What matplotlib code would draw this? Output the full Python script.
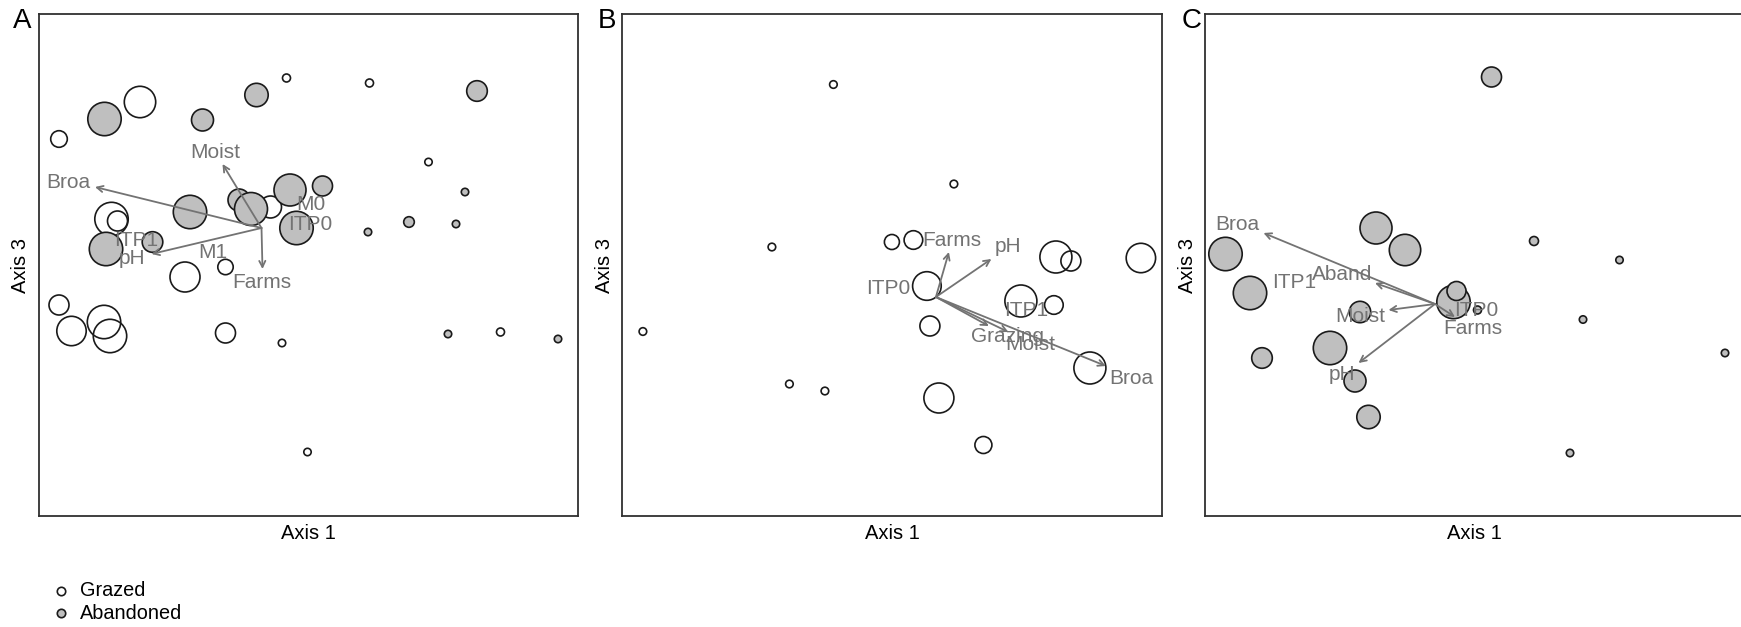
import matplotlib
matplotlib.use("Agg")
import matplotlib.pyplot as plt
import numpy as np

plt.rcParams['font.family'] = ['Liberation Sans', 'DejaVu Sans']

# ---------------- data (ordination scores, arbitrary units) ----------------
# Panel A
A_graz_x = [248, 331, 101.5, 20.5, 390, 232, 73, 79, 146.5, 187, 20.5, 33, 65.5, 71.5, 187, 243.5, 462, 269]
A_graz_y = [438, 433, 414, 377, 354, 309, 297, 295, 239, 249, 211, 185, 194, 180, 183, 173, 184, 64]
A_graz_n = [4, 4, 15.7, 8.3, 3.7, 11, 16.7, 10, 15, 7.7, 10, 14.7, 16.7, 16.7, 10, 3.7, 4, 3.7]
A_aban_x = [218, 66, 164, 438.5, 200.5, 212.5, 251.5, 284, 151.5, 258, 67.5, 114, 426.5, 370.5, 417.5, 329.5, 409.5, 519.5]
A_aban_y = [421, 397, 396, 425, 316, 307, 326, 330, 304, 288, 267, 274, 324, 294, 292, 284, 182, 177]
A_aban_n = [11.7, 16.7, 11, 10.3, 11, 16.5, 16, 10, 16.7, 16.7, 16.7, 10.3, 3.7, 5.3, 3.7, 3.7, 3.7, 3.7]
A_vec_names = ['Broa', 'Moist', 'pH', 'Farms']
A_vec_origin = (223, 288)
A_vec_x = [56.5, 184, 113, 224]
A_vec_y = [329, 352, 262, 247]
A_vec_lab_x = [30, 176.5, 94, 223]
A_vec_lab_y = [333, 363, 257, 234]
A_fac_names = ['M0', 'ITP0', 'M1', 'ITP1']
A_fac_x = [272.5, 271.5, 174, 98]
A_fac_y = [311, 291, 263, 276]

# Panel B
B_graz_x = [211, 331.5, 149.5, 20.5, 167, 202.5, 361, 316.5, 307.5, 304.5, 269.5, 291, 433.5, 448.5, 518.5, 398.5, 431.5, 467.5]
B_graz_y = [431.5, 332, 269, 184.5, 132, 125, 71, 118, 190, 230, 274, 276, 259, 255, 258, 215, 211, 148]
B_graz_n = [3.8, 3.8, 3.8, 3.8, 3.8, 3.8, 8.5, 15, 10, 14.3, 7.5, 9.3, 16, 10, 14.7, 16, 9.3, 16]
B_vec_names = ['Farms', 'pH', 'Grazing', 'Moist', 'Broa']
B_vec_origin = (313.5, 219)
B_vec_x = [326.5, 369, 366.5, 386, 483.5]
B_vec_y = [264, 257, 190, 184, 150]
B_vec_lab_x = [329, 386, 385, 407.5, 508.5]
B_vec_lab_y = [275, 269, 179, 171, 138]
B_fac_names = ['ITP0', 'ITP1']
B_fac_x = [266, 404]
B_fac_y = [228, 205]

# Panel C
C_aban_x = [286.5, 329, 414.5, 378, 520, 365, 20.5, 45, 171, 200, 248.5, 251.5, 272.5, 155, 125, 57, 150, 163.5]
C_aban_y = [439, 275, 256, 196.5, 163, 63, 262, 223, 288, 266, 214, 225, 206, 204, 168, 158, 135, 99]
C_aban_n = [10, 4.5, 3.7, 3.7, 3.7, 3.7, 16.7, 16.7, 16, 15.7, 16.7, 9.5, 4, 10.7, 16.7, 10.3, 11, 11.7]
C_vec_names = ['Broa', 'Aband', 'Moist', 'pH', 'Farms']
C_vec_origin = (230, 212)
C_vec_x = [58.5, 170, 183.5, 153.5, 250]
C_vec_y = [283, 233, 206, 153, 199]
C_vec_lab_x = [32, 137, 155, 137, 268]
C_vec_lab_y = [291, 242, 200, 141, 187]
C_fac_names = ['ITP1', 'ITP0']
C_fac_x = [89, 271]
C_fac_y = [234, 206]

legend_labels = ['Grazed', 'Abandoned']

# ---------------- styling ----------------
W, H = 1741, 627
DPI = 100
GREY_FILL = '#bfbfbf'
EDGE = '#1a1a1a'
VEC = '#737373'
XL, YL = 539.8, 501.6


def msize(r):
    r = np.asarray(r, dtype=float)
    return (2 * r * 72.0 / DPI) ** 2


fig = plt.figure(figsize=(W / DPI, H / DPI), dpi=DPI)


def make_ax(left_px):
    ax = fig.add_axes([left_px / W, (H - 516) / H, XL / W, YL / H])
    ax.set_xlim(0, XL)
    ax.set_ylim(0, YL)
    ax.set_xticks([])
    ax.set_yticks([])
    for s in ax.spines.values():
        s.set_linewidth(1.3)
        s.set_color('#303030')
    ax.set_xlabel('Axis 1', fontsize=14.5, labelpad=6)
    ax.set_ylabel('Axis 3', fontsize=14.5, labelpad=6)
    return ax


def draw_open(ax, x, y, n):
    ax.scatter(x, y, s=msize(n), facecolors='none', edgecolors=EDGE, linewidths=1.2, zorder=2)


def draw_fill(ax, x, y, n):
    ax.scatter(x, y, s=msize(n), facecolors=GREY_FILL, edgecolors=EDGE, linewidths=1.2, zorder=3)


def draw_vectors(ax, origin, xs, ys, names, lx, ly):
    for tx, ty, nm, a, b in zip(xs, ys, names, lx, ly):
        ax.annotate('', xy=(tx, ty), xytext=origin,
                    arrowprops=dict(arrowstyle='->', color=VEC, lw=1.3,
                                    mutation_scale=11, shrinkA=0, shrinkB=0),
                    zorder=4)
        ax.text(a, b, nm, ha='center', va='center', color=VEC, fontsize=15, zorder=5)


def draw_factors(ax, xs, ys, names):
    for a, b, nm in zip(xs, ys, names):
        ax.text(a, b, nm, ha='center', va='center', color=VEC, fontsize=15, zorder=5)


axA = make_ax(38.5)
draw_open(axA, A_graz_x, A_graz_y, A_graz_n)
draw_fill(axA, A_aban_x, A_aban_y, A_aban_n)
draw_vectors(axA, A_vec_origin, A_vec_x, A_vec_y, A_vec_names, A_vec_lab_x, A_vec_lab_y)
draw_factors(axA, A_fac_x, A_fac_y, A_fac_names)

axB = make_ax(622.4)
draw_open(axB, B_graz_x, B_graz_y, B_graz_n)
draw_vectors(axB, B_vec_origin, B_vec_x, B_vec_y, B_vec_names, B_vec_lab_x, B_vec_lab_y)
draw_factors(axB, B_fac_x, B_fac_y, B_fac_names)

axC = make_ax(1205)
draw_fill(axC, C_aban_x, C_aban_y, C_aban_n)
draw_vectors(axC, C_vec_origin, C_vec_x, C_vec_y, C_vec_names, C_vec_lab_x, C_vec_lab_y)
draw_factors(axC, C_fac_x, C_fac_y, C_fac_names)

# panel letters
for lab, xp in zip(['A', 'B', 'C'], [22.5, 607, 1191.7]):
    fig.text(xp / W, 1 - 21.5 / H, lab, fontsize=20, ha='center', va='center')

# legend
lax = fig.add_axes([0, 0, 1, 1], facecolor='none')
lax.set_xlim(0, W)
lax.set_ylim(H, 0)
lax.axis('off')
lax.scatter([60.7], [590.7], s=msize(4.2), facecolors='white', edgecolors=EDGE, linewidths=1.2)
lax.scatter([60.7], [613.3], s=msize(4.2), facecolors=GREY_FILL, edgecolors=EDGE, linewidths=1.2)
lax.text(80, 590.7, legend_labels[0], fontsize=14.3, va='center', ha='left')
lax.text(80, 613.3, legend_labels[1], fontsize=14.3, va='center', ha='left')

fig.savefig('out.png', dpi=DPI)
